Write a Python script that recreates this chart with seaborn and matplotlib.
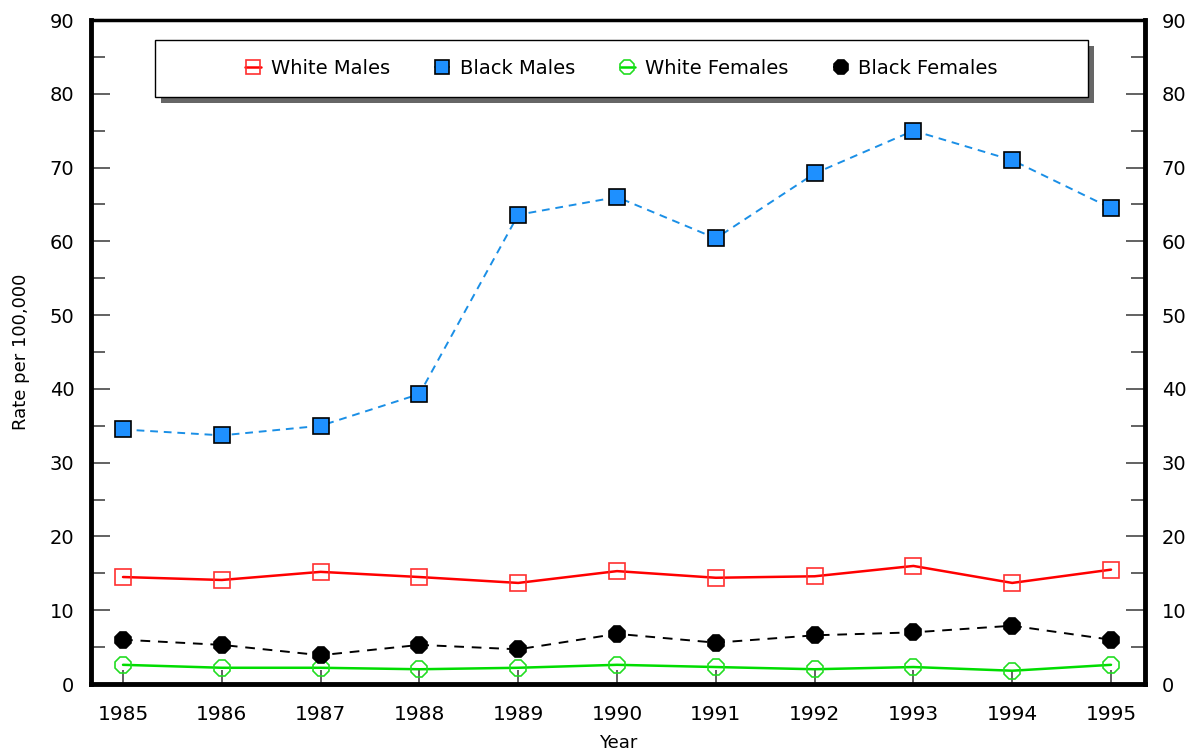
import pandas as pd
import numpy as np
import matplotlib
matplotlib.use("Agg")
import matplotlib.pyplot as plt
import seaborn as sns
from matplotlib.ticker import MultipleLocator
from matplotlib.patches import Rectangle
from matplotlib.transforms import ScaledTranslation

years = list(range(1985, 1996))
white_males = [14.5, 14.1, 15.2, 14.5, 13.7, 15.3, 14.4, 14.6, 16.0, 13.7, 15.5]
black_males = [34.5, 33.7, 35.0, 39.3, 63.6, 66.0, 60.4, 69.2, 75.0, 71.0, 64.5]
white_females = [2.6, 2.2, 2.2, 2.0, 2.2, 2.6, 2.3, 2.0, 2.3, 1.8, 2.6]
black_females = [6.0, 5.3, 3.9, 5.3, 4.7, 6.8, 5.6, 6.6, 7.0, 7.9, 6.0]

groups = ["White Males", "Black Males", "White Females", "Black Females"]

df = pd.DataFrame({
    "Year": years * 4,
    "Rate": white_males + black_males + white_females + black_females,
    "Group": np.repeat(groups, len(years)),
})

sns.set_style("white")
plt.rcParams["font.family"] = ["DejaVu Sans"]
plt.rcParams["text.color"] = "black"
plt.rcParams["axes.labelcolor"] = "black"

fig = plt.figure(figsize=(11.89, 7.5), dpi=100)
ax = fig.add_axes([91 / 1189, 1 - 684 / 750, 1054 / 1189, 664 / 750])

styles = {
    "White Males": dict(color="#ff0000", ls="-", lw=1.8, marker="s", mfc="none", mec="#ff3030", ms=12, mew=1.2),
    "Black Males": dict(color="#1a8fe6", ls=(0, (4, 3)), lw=1.4, marker="s", mfc="#1e90ff", mec="black", ms=12, mew=1.2),
    "White Females": dict(color="#00dd00", ls="-", lw=1.8, marker="8", mfc="none", mec="#22dd22", ms=12, mew=1.2),
    "Black Females": dict(color="black", ls=(0, (5, 4)), lw=1.4, marker="8", mfc="black", mec="black", ms=12, mew=1.2),
}

for g in groups:
    st = styles[g]
    sns.lineplot(data=df[df["Group"] == g], x="Year", y="Rate", ax=ax,
                 color=st["color"], linestyle=st["ls"], linewidth=st["lw"],
                 marker=st["marker"], markerfacecolor=st["mfc"],
                 markeredgecolor=st["mec"], markersize=st["ms"],
                 markeredgewidth=st["mew"], label=g, zorder=3)

ax.set_xlim(1984.676, 1995.344)
ax.set_ylim(0, 90)
ax.set_xticks(years)
ax.set_xticklabels([str(y) for y in years])
ax.yaxis.set_major_locator(MultipleLocator(10))
ax.yaxis.set_minor_locator(MultipleLocator(5))

for side in ["left", "right", "top", "bottom"]:
    ax.spines[side].set_color("black")
ax.spines["left"].set_linewidth(3.5)
ax.spines["bottom"].set_linewidth(3.5)
ax.spines["right"].set_linewidth(3.5)
ax.spines["top"].set_linewidth(2.5)

ax.tick_params(axis="y", which="major", direction="in", length=14, width=1.3,
               color="#555555", labelcolor="black", labelsize=14, pad=12,
               left=True, right=True, labelleft=True, labelright=True)
ax.tick_params(axis="y", which="minor", direction="in", length=10, width=1.3,
               color="#555555", left=True, right=True)
ax.tick_params(axis="x", which="major", direction="in", length=10, width=1.3,
               color="#555555", labelcolor="black", labelsize=14.5, pad=15,
               bottom=True, top=False)

ax.set_xlabel("Year", fontsize=13, labelpad=7)
ax.set_ylabel("Rate per 100,000", fontsize=13, labelpad=14)

# legend box with a drop shadow
box = (0.0607, 0.884, 0.8853, 0.086)
shift = ScaledTranslation(6 / 100, -6 / 100, fig.dpi_scale_trans)
ax.add_patch(Rectangle(box[:2], box[2], box[3], transform=ax.transAxes + shift,
                       facecolor="#666666", edgecolor="none", zorder=4, clip_on=False))
ax.add_patch(Rectangle(box[:2], box[2], box[3], transform=ax.transAxes,
                       facecolor="white", edgecolor="black", linewidth=1.0,
                       zorder=5, clip_on=False))

leg = ax.legend(loc="center", bbox_to_anchor=(box[0] + box[2] / 2, box[1] + box[3] / 2),
                ncol=4, frameon=False, fontsize=14, handlelength=0.8,
                markerscale=0.85, columnspacing=2.3, handletextpad=0.5,
                borderaxespad=0, borderpad=0)
leg.set_zorder(6)

plt.savefig("out.png", dpi=100)
